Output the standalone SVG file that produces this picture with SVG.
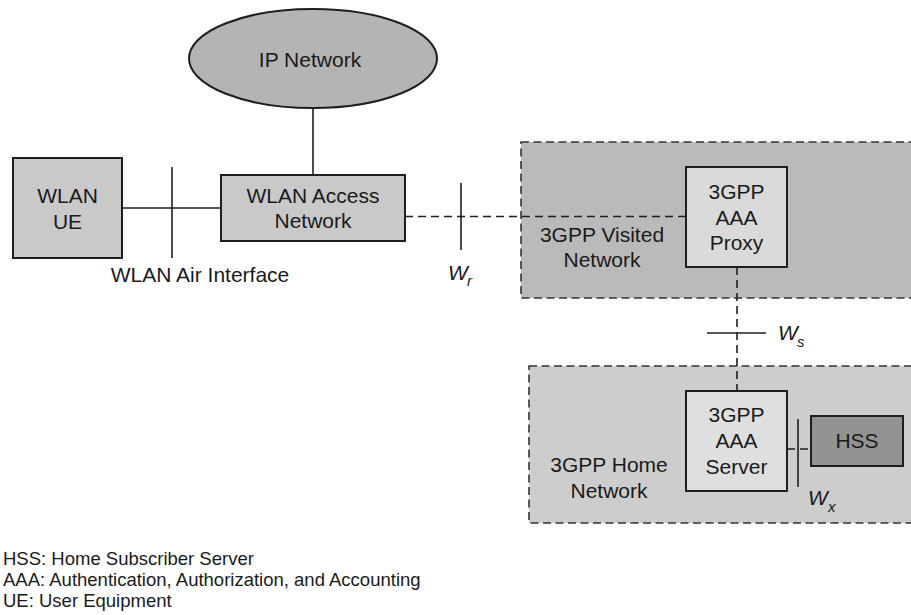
<svg xmlns="http://www.w3.org/2000/svg" width="911" height="615" viewBox="0 0 911 615">
  <style>
    text { font-family: "Liberation Sans", Arial, sans-serif; font-size: 21px; fill: #1a1a1a; }
    .mid { text-anchor: middle; }
    .legend { font-size: 18.5px; }
    .ital { font-style: italic; }
    .sub { font-size: 15px; font-style: italic; }
    .region { stroke: #333; stroke-width: 1.6; stroke-dasharray: 8 4.5; }
    .box { stroke: #1e1e1e; stroke-width: 2; }
    .link { stroke: #1e1e1e; stroke-width: 1.6; fill: none; }
    .dash { stroke-dasharray: 8 5; }
  </style>
  <rect width="911" height="615" fill="#ffffff"/>

  <!-- network domains -->
  <g id="visited-network">
    <rect class="region" x="521" y="142" width="420" height="156" fill="#bababa"/>
    <text class="mid" x="602" y="242">3GPP Visited</text>
    <text class="mid" x="602" y="267">Network</text>
  </g>
  <g id="home-network">
    <rect class="region" x="529" y="366" width="420" height="157" fill="#cdcdcd"/>
    <text class="mid" x="609" y="472">3GPP Home</text>
    <text class="mid" x="609" y="498">Network</text>
  </g>

  <!-- links and reference points -->
  <g id="connectors">
    <line class="link" x1="313" y1="108" x2="313" y2="175"/>
    <line class="link" x1="122" y1="208" x2="221" y2="208"/>
    <line class="link" x1="172" y1="167" x2="172" y2="258"/>
    <line class="link dash" x1="405" y1="216.5" x2="686" y2="216.5"/>
    <line class="link" x1="461" y1="183" x2="461" y2="250"/>
    <line class="link dash" x1="737" y1="267" x2="737" y2="391"/>
    <line class="link" x1="707" y1="333" x2="766" y2="333"/>
    <line class="link dash" x1="787" y1="449" x2="811" y2="449"/>
    <line class="link" x1="798" y1="419" x2="798" y2="487"/>
    <text class="ital" x="448" y="280">W</text><text class="sub" x="467" y="286">r</text>
    <text class="ital" x="778" y="340">W</text><text class="sub" x="797" y="347">s</text>
    <text class="ital" x="808" y="505">W</text><text class="sub" x="828" y="512">x</text>
    <text class="mid" x="200" y="282">WLAN Air Interface</text>
  </g>

  <g id="ip-network">
    <ellipse class="box" cx="313" cy="58.5" rx="124" ry="49.5" fill="#b4b4b4"/>
    <text class="mid" x="310" y="67">IP Network</text>
  </g>
  <g id="wlan-ue">
    <rect class="box" x="13" y="158" width="109" height="100" fill="#c9c9c9"/>
    <text class="mid" x="67.5" y="203">WLAN</text>
    <text class="mid" x="67.5" y="229">UE</text>
  </g>
  <g id="wlan-access-network">
    <rect class="box" x="221" y="175" width="184" height="66" fill="#c9c9c9"/>
    <text class="mid" x="313" y="203">WLAN Access</text>
    <text class="mid" x="313" y="228">Network</text>
  </g>
  <g id="aaa-proxy">
    <rect class="box" x="686" y="167" width="101" height="100" fill="#dadada"/>
    <text class="mid" x="736.5" y="199">3GPP</text>
    <text class="mid" x="736.5" y="225">AAA</text>
    <text class="mid" x="736.5" y="250">Proxy</text>
  </g>
  <g id="aaa-server">
    <rect class="box" x="686" y="391" width="101" height="100" fill="#dfdfdf"/>
    <text class="mid" x="736.5" y="422">3GPP</text>
    <text class="mid" x="736.5" y="448">AAA</text>
    <text class="mid" x="736.5" y="474">Server</text>
  </g>
  <g id="hss">
    <rect class="box" x="811" y="416" width="92" height="50" fill="#939393"/>
    <text class="mid" x="857" y="448">HSS</text>
  </g>

  <g id="legend">
    <text class="legend" x="3" y="565">HSS: Home Subscriber Server</text>
    <text class="legend" x="3" y="586">AAA: Authentication, Authorization, and Accounting</text>
    <text class="legend" x="3" y="607">UE: User Equipment</text>
  </g>
</svg>
